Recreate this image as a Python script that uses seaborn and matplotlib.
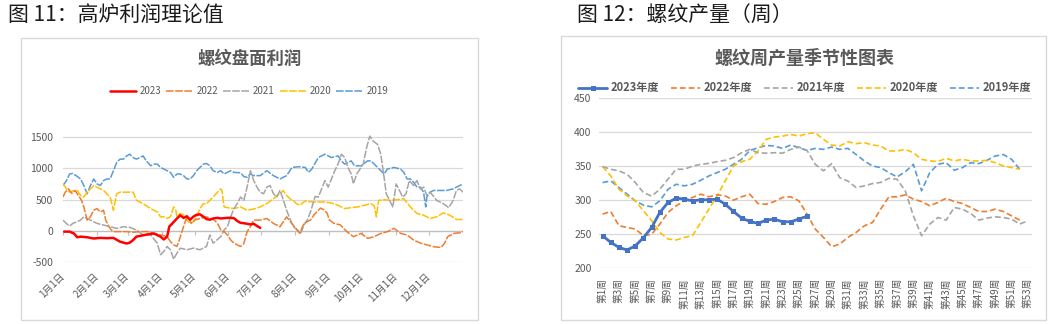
import numpy as np
import pandas as pd
import matplotlib
matplotlib.use("Agg")
import matplotlib.pyplot as plt
import seaborn as sns
from matplotlib.patches import Rectangle

sns.set_theme(style="white")
plt.rcParams["font.family"] = ["Noto Sans CJK SC", "DejaVu Sans"]
plt.rcParams["axes.unicode_minus"] = False

# ---------------- data: left chart (day of year, profit) ----------------
month_days = [0, 31, 59, 90, 120, 151, 181, 212, 243, 273, 304, 334]
month_labels = ["1月1日", "2月1日", "3月1日", "4月1日", "5月1日", "6月1日",
                "7月1日", "8月1日", "9月1日", "10月1日", "11月1日", "12月1日"]

profit_2023 = [(1, -10), (6, -10), (10, -40), (13, -100), (16, -90), (22, -100), (28, -120),
               (34, -110), (40, -115), (46, -110), (52, -170), (58, -200), (61, -185), (64, -145),
               (67, -90), (70, -80), (77, -55), (83, -40), (89, -90), (92, -135), (95, -90),
               (97, 70), (100, 125), (104, 200), (107, 250), (110, 210), (113, 235), (116, 180),
               (119, 230), (122, 260), (125, 265), (128, 230), (131, 190), (134, 180), (137, 200),
               (141, 210), (144, 200), (147, 205), (150, 210), (153, 210), (156, 205), (159, 160),
               (162, 130), (165, 125), (168, 115), (171, 105), (174, 115), (177, 80), (180, 50)]

profit_2022 = [(0, 542), (2, 620), (5, 673), (8, 600), (11, 647), (14, 568), (17, 489), (19, 384),
               (22, 174), (25, 226), (28, 331), (31, 358), (34, 305), (37, 331), (39, 174), (42, 68),
               (44, 16), (47, -10), (52, -10), (58, -10), (64, -20), (70, -10), (77, -10), (83, -37),
               (89, -63), (95, -89), (98, -168), (101, -221), (104, -247), (106, -150), (109, 16),
               (112, 174), (114, 226), (117, 121), (120, 174), (125, 200), (131, 226), (138, 174),
               (141, 121), (144, 16), (147, -10), (150, -63), (153, -142), (156, -195), (159, -221),
               (162, -247), (165, -200), (168, -10), (171, 68), (174, 174), (180, 174), (186, 200),
               (192, 121), (198, 68), (204, 226), (210, 95), (216, -37), (220, 124), (223, 150),
               (226, 177), (229, 258), (232, 312), (235, 366), (238, 339), (241, 285), (243, 177),
               (247, 124), (253, 97), (259, -11), (265, -91), (272, -38), (278, -118), (284, -91),
               (290, -38), (296, -11), (302, 43), (308, -38), (314, -65), (320, -145), (327, -199),
               (333, -226), (339, -253), (345, -263), (348, -199), (351, -91), (357, -38),
               (363, -27), (365, -11)]

profit_2021 = [(0, 174), (3, 120), (6, 79), (9, 121), (13, 150), (16, 174), (19, 226), (22, 200),
               (25, 174), (28, 147), (31, 121), (37, 95), (43, 68), (49, 42), (55, 68), (61, 58),
               (67, 16), (73, -63), (80, -63), (86, -195), (89, -379), (92, -326), (95, -247),
               (98, -300), (101, -450), (104, -352), (107, -274), (113, -300), (119, -274),
               (125, -300), (131, -247), (134, -63), (137, -195), (144, -89), (147, 16), (150, 68),
               (153, 226), (156, 358), (159, 437), (162, 542), (165, 489), (168, 700), (171, 963),
               (174, 805), (177, 700), (180, 620), (183, 595), (186, 700), (189, 726), (192, 595),
               (195, 542), (198, 647), (201, 500), (204, 330), (207, 200), (210, 70), (213, 30),
               (217, -30), (220, 100), (223, 180), (226, 312), (230, 550), (233, 542), (236, 673),
               (239, 805), (242, 700), (245, 831), (248, 963), (251, 1068), (254, 1226),
               (257, 1173), (260, 1015), (263, 910), (265, 752), (268, 910), (271, 989),
               (274, 1068), (277, 1331), (280, 1515), (283, 1436), (287, 1384), (290, 1226),
               (293, 857), (295, 594), (298, 489), (301, 384), (304, 752), (307, 647), (310, 542),
               (313, 594), (316, 805), (320, 726), (323, 805), (326, 673), (329, 700), (332, 568),
               (335, 620), (341, 489), (347, 437), (352, 373), (356, 489), (359, 647), (362, 673),
               (365, 620)]

profit_2020 = [(0, 763), (3, 673), (6, 620), (9, 640), (13, 647), (16, 568), (19, 542), (22, 620),
               (25, 673), (28, 726), (31, 700), (34, 673), (37, 647), (40, 594), (43, 542),
               (46, 331), (49, 594), (52, 620), (58, 620), (64, 620), (67, 489), (73, 437),
               (80, 358), (86, 305), (89, 226), (92, 226), (95, 200), (98, 226), (101, 384),
               (103, 330), (104, 226), (107, 279), (110, 260), (113, 174), (116, 121), (119, 147),
               (122, 226), (125, 358), (128, 437), (131, 437), (134, 489), (137, 542), (141, 620),
               (144, 673), (145, 650), (147, 384), (150, 373), (156, 358), (162, 384), (168, 331),
               (174, 350), (180, 384), (186, 437), (192, 516), (198, 594), (201, 647), (204, 568),
               (207, 516), (210, 489), (213, 437), (216, 410), (221, 479), (227, 463), (233, 463),
               (239, 463), (245, 447), (251, 410), (257, 358), (263, 373), (269, 384), (275, 410),
               (281, 437), (284, 400), (286, 226), (288, 489), (293, 500), (299, 489), (305, 500),
               (311, 516), (317, 384), (323, 279), (329, 252), (335, 200), (341, 226), (347, 289),
               (353, 252), (359, 184), (365, 184)]

profit_2019 = [(0, 726), (3, 800), (6, 910), (9, 920), (12, 884), (16, 831), (19, 726), (22, 594),
               (25, 726), (28, 831), (31, 752), (34, 726), (37, 805), (40, 831), (43, 831),
               (46, 963), (49, 1094), (52, 1147), (55, 1147), (58, 1199), (61, 1226), (64, 1173),
               (67, 1147), (70, 1173), (73, 1199), (76, 1120), (80, 1041), (83, 1068), (86, 1068),
               (89, 1015), (92, 989), (95, 963), (98, 936), (101, 857), (104, 910), (107, 910),
               (110, 884), (113, 831), (116, 831), (119, 884), (122, 963), (125, 1015), (128, 1068),
               (131, 1078), (134, 1041), (137, 963), (141, 936), (144, 963), (147, 910), (150, 936),
               (153, 963), (156, 936), (162, 930), (165, 870), (168, 857), (171, 910), (174, 884),
               (180, 884), (186, 963), (192, 884), (198, 831), (204, 884), (209, 1015), (215, 1026),
               (221, 1015), (224, 936), (227, 989), (233, 1173), (239, 1226), (245, 1173),
               (251, 1199), (254, 1120), (257, 1068), (260, 1094), (263, 1120), (266, 1041),
               (272, 1041), (278, 1120), (281, 1120), (284, 1068), (290, 963), (293, 910),
               (296, 989), (302, 1015), (308, 989), (311, 936), (314, 831), (317, 831), (320, 778),
               (323, 700), (326, 700), (329, 620), (331, 384), (332, 542), (335, 620), (338, 647),
               (344, 647), (350, 647), (356, 673), (359, 700), (365, 752)]

# ---------------- data: right chart (weekly output, 万吨) ----------------
week_labels = [f"第{w}周" for w in range(1, 54, 2)]
week_ticks = list(range(1, 54, 2))

output_2023 = [247.8, 238, 230.7, 226.8, 233, 245, 260, 282, 296.6, 303, 301.5, 299, 300.5,
               300.5, 301.5, 294, 283.4, 273.7, 268.8, 265.9, 270.7, 272.2, 268.3, 268.3, 272.2,
               276.5]
output_2022 = [279.5, 283.4, 262.4, 260, 257.6, 247.8, 250, 264.9, 282, 291.7, 299, 304, 308.8,
               305, 307.8, 306.3, 300, 305, 308.8, 295, 294, 298, 304, 305, 299, 279.5, 257.6,
               245.4, 231.7, 235.6, 245.4, 252.7, 262.4, 267.3, 286.8, 304.9, 304.9, 307.8, 301.5,
               298, 291.7, 296.6, 302.9, 298, 295, 289.3, 283.4, 283.4, 286.8, 283.4, 277, 270.7]
output_2021 = [349.3, 345.4, 343, 338, 326, 311, 306, 316, 331, 345.4, 345.4, 350, 352.7, 354,
               356.6, 358.5, 362.4, 369.7, 374.6, 369.7, 369, 369.7, 369, 374.6, 378, 373, 352.7,
               343, 353.7, 333, 328, 318.5, 321, 324.4, 326, 332, 330.7, 313.7, 277, 247.8, 264.9,
               274.6, 270.7, 289.3, 286.8, 280.5, 270.7, 273.7, 275.6, 274.6, 272.2, 264.9, 269.8]
output_2020 = [349.3, 335.6, 316, 306.3, 299, 284.4, 269.8, 252.7, 243, 241.5, 245.4, 247.8,
               267.3, 286.8, 306.3, 328.3, 350.2, 356.6, 360, 372.2, 389.3, 392.6, 394, 396.6, 394,
               397.6, 399, 389.3, 381, 379.5, 385.8, 383, 384.4, 381, 379.5, 372.2, 372.2, 374.6,
               369.7, 360, 357.6, 356.6, 361.5, 357.6, 360, 357.6, 357.6, 358.5, 355.1, 350.2,
               347.8, 345.4]
output_2019 = [325.9, 328.3, 318.5, 308.8, 299, 292.7, 290.2, 299, 316, 323.4, 321, 323.4, 329.3,
               335.6, 340.5, 345.4, 352.7, 360, 373, 376.9, 380.3, 379.5, 376, 381, 377, 373, 376,
               374.6, 378, 374.6, 376, 367, 357.6, 350.2, 347.8, 340.5, 334.1, 341.6, 352.7, 313.7,
               340.5, 352.7, 355.1, 344, 347.8, 355.1, 353.7, 358.5, 364.9, 367, 360, 345.4]

C_ORANGE, C_GRAY, C_YELLOW, C_LBLUE, C_BLUE, C_RED = "#ED7D31", "#A5A5A5", "#FFC000", "#5B9BD5", "#4472C4", "#FF0000"
TXT = "#595959"

# ---------------- figure ----------------
W, H = 1063, 324
fig = plt.figure(figsize=(W / 100, H / 100), dpi=100)
fig.patch.set_facecolor("white")


def fx(px):
    return px / W


def fy(py):
    return 1 - py / H


def box(x0, y0, x1, y1):
    fig.patches.append(Rectangle((fx(x0), fy(y1)), fx(x1) - fx(x0), fy(y0) - fy(y1),
                                 transform=fig.transFigure, fill=False,
                                 edgecolor="#D9D9D9", lw=1.0))


box(21, 38, 478, 320)
box(561, 36, 1046, 320)

fig.text(fx(8), fy(15), "图 11：高炉利润理论值", fontsize=15, ha="left", va="center", color="#1a1a1a")
fig.text(fx(577), fy(15), "图 12：螺纹产量（周）", fontsize=15, ha="left", va="center", color="#1a1a1a")
fig.text(fx(250), fy(59), "螺纹盘面利润", fontsize=12.5, ha="center", va="center", color=TXT, fontweight="bold")
fig.text(fx(804), fy(58), "螺纹周产量季节性图表", fontsize=13, ha="center", va="center", color=TXT, fontweight="bold")

# ---------------- left chart ----------------
ax1 = fig.add_axes([fx(63), fy(262.3), fx(463) - fx(63), fy(133.3) - fy(262.3)])
left_series = [("2023", profit_2023, C_RED, "-", 1.8),
               ("2022", profit_2022, C_ORANGE, (0, (5, 1)), 1.1),
               ("2021", profit_2021, C_GRAY, (0, (5, 1)), 1.1),
               ("2020", profit_2020, C_YELLOW, (0, (5, 1)), 1.1),
               ("2019", profit_2019, C_LBLUE, (0, (5, 1)), 1.1)]
for name, pairs, col, ls, lw in left_series[::-1]:
    df = pd.DataFrame(pairs, columns=["day", "profit"])
    sns.lineplot(data=df, x="day", y="profit", ax=ax1, color=col, linestyle=ls, lw=lw,
                 estimator=None, sort=False, label=name,
                 zorder=3 if name == "2023" else 2)
ax1.set_xlim(0, 365)
ax1.set_ylim(-500, 1560)
ax1.set_yticks([-500, 0, 500, 1000, 1500])
ax1.yaxis.grid(True, color="#D9D9D9", lw=0.9)
ax1.xaxis.grid(False)
for s in ax1.spines.values():
    s.set_visible(False)
ax1.axhline(0, color="#BFBFBF", lw=0.9, zorder=1)
ax1.set_xticks(month_days)
ax1.set_xticklabels(month_labels, rotation=45, ha="right", va="center", rotation_mode="anchor")
ax1.tick_params(axis="x", length=0, pad=9, labelsize=7, labelcolor=TXT)
ax1.tick_params(axis="y", length=0, pad=7, labelsize=7.5, labelcolor=TXT)
ax1.set_xlabel("")
ax1.set_ylabel("")
sec = ax1.secondary_xaxis(0, transform=ax1.transData)
sec.set_xticks(month_days)
sec.set_xticklabels([])
sec.tick_params(bottom=True, length=3, width=0.8, color="#BFBFBF", direction="out")
sec.spines["bottom"].set_visible(False)
h, l = ax1.get_legend_handles_labels()
order = [l.index(n) for n in ["2023", "2022", "2021", "2020", "2019"]]
ax1.legend([h[i] for i in order], [l[i] for i in order], ncol=5, loc="center",
           bbox_to_anchor=(0.465, 1.328), frameon=False, fontsize=7, labelcolor=TXT,
           handlelength=2.7, handletextpad=0.4, columnspacing=0.5)

# ---------------- right chart ----------------
ax2 = fig.add_axes([fx(598.5), fy(268.3), fx(1032) - fx(598.5), fy(98) - fy(268.3)])
right_series = [("2023年度", output_2023, C_BLUE),
                ("2022年度", output_2022, C_ORANGE),
                ("2021年度", output_2021, C_GRAY),
                ("2020年度", output_2020, C_YELLOW),
                ("2019年度", output_2019, C_LBLUE)]
for name, vals, col in right_series[::-1]:
    df = pd.DataFrame({"week": np.arange(1, len(vals) + 1), "output": vals})
    if name.startswith("2023"):
        sns.lineplot(data=df, x="week", y="output", ax=ax2, color=col, lw=2.0, marker="s",
                     markersize=3.6, markeredgewidth=0, estimator=None, sort=False,
                     label=name, zorder=3)
    else:
        sns.lineplot(data=df, x="week", y="output", ax=ax2, color=col, lw=1.2,
                     linestyle=(0, (3.5, 1.8)), estimator=None, sort=False, label=name, zorder=2)
ax2.set_xlim(0.5, 53.5)
ax2.set_ylim(200, 450)
ax2.set_yticks([200, 250, 300, 350, 400, 450])
ax2.yaxis.grid(True, color="#D9D9D9", lw=0.9)
ax2.xaxis.grid(False)
for s in ax2.spines.values():
    s.set_visible(False)
ax2.set_xticks(week_ticks)
ax2.set_xticklabels(week_labels, rotation=90, ha="center", va="top")
ax2.tick_params(axis="x", length=0, pad=7, labelsize=7, labelcolor=TXT)
ax2.tick_params(axis="y", length=0, pad=5, labelsize=7.5, labelcolor=TXT)
ax2.set_xlabel("")
ax2.set_ylabel("")
h, l = ax2.get_legend_handles_labels()
names = [r[0] for r in right_series]
order = [l.index(n) for n in names]
ax2.legend([h[i] for i in order], [l[i] for i in order], ncol=5, loc="center",
           bbox_to_anchor=(0.476, 1.059), frameon=False, labelcolor=TXT,
           handlelength=2.6, handletextpad=0.3, columnspacing=1.1,
           prop={"weight": "bold", "size": 8})

fig.savefig("out.png", dpi=100, facecolor="white")
